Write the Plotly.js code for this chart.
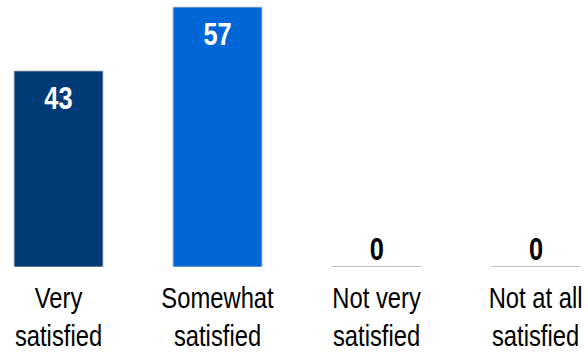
<!DOCTYPE html>
<html><head><meta charset="utf-8">
<script src="https://cdn.plot.ly/plotly-3.0.1.min.js"></script>
<style>
html,body{margin:0;padding:0;background:#fff;overflow:hidden}
#wrap{width:588px;height:354px;overflow:hidden}
#c{width:717px;height:354px;transform:scaleX(0.8201);transform-origin:0 0}
</style>
</head><body><div id="wrap"><div id="c"></div></div>
<script>
const categories = ["Very<br>satisfied", "Somewhat<br>satisfied", "Not very<br>satisfied", "Not at all<br>satisfied"];
const values = [43, 57, 0, 0];
const colors = ["#003B77", "#0066D6", "#0066D6", "#0066D6"];

const FONT = '"Liberation Sans", Arial, sans-serif';
const BW = 0.56;
const idx = categories.map((c, i) => i);

const trace = {
  type: 'bar', x: idx, y: values, width: BW,
  marker: {color: colors, line: {color: '#C8C8C8', width: 1}},
  hoverinfo: 'skip'
};

const annotations = values.map((v, i) => ({
  x: i, y: v, xref: 'x', yref: 'y',
  text: String(v), showarrow: false,
  yanchor: v > 0 ? 'top' : 'bottom',
  yshift: v > 0 ? -8 : -2,
  font: {family: FONT, size: 31, color: v > 0 ? '#FFFFFF' : '#000000', weight: 'bold'}
}));

const shapes = values.map((v, i) => v === 0 ? ({
  type: 'line', xref: 'x', yref: 'y', x0: i - BW / 2, x1: i + BW / 2, y0: v, y1: v,
  line: {color: '#C0C0C0', width: 2}
}) : null).filter(s => s);

const layout = {
  width: 717, height: 354,
  margin: {l: 0, r: 0, t: 0, b: 87, pad: 0},
  paper_bgcolor: '#fff', plot_bgcolor: '#fff',
  showlegend: false,
  xaxis: {
    range: [-0.368, 3.33], tickmode: 'array', tickvals: idx, ticktext: categories,
    showgrid: false, zeroline: false, showline: false, ticks: '',
    ticklabeloverflow: 'allow', ticklabelstandoff: 11,
    tickfont: {family: FONT, size: 29, color: '#000'}, fixedrange: true
  },
  yaxis: {range: [0, 58.54], visible: false, showgrid: false, zeroline: false, fixedrange: true},
  annotations: annotations,
  shapes: shapes
};

Plotly.newPlot('c', [trace], layout, {displayModeBar: false, staticPlot: true});
</script></body></html>
